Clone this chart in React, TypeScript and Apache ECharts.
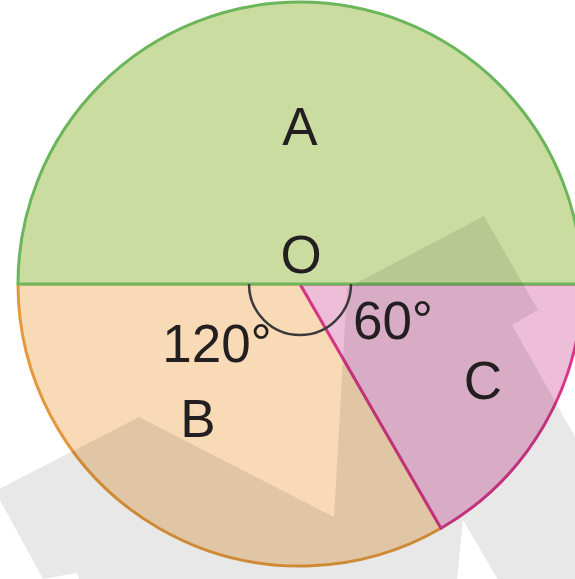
import React, { useEffect, useRef } from "react";
import * as echarts from "echarts";

// Sector categories and their central angles (degrees), in drawing order
const categories = ["B", "C", "A"];
const angles = [120, 60, 180];
const fillColors = ["#f8dab6", "#eebdd8", "#cbdca0"];
const borderColors = ["#e4983c", "#d6368a", "#6bb55a"];

// Angle annotations
const angleLabels = ["120°", "60°"];

// Watermark outline (decorative background shape)
const watermark: number[][] = [
  [-5, 491], [139, 417], [334, 517], [347, 288], [484, 216], [538, 310],
  [512, 325], [600, 481], [600, 600], [510, 600], [463, 520], [455, 600],
  [87, 600], [77, 573], [43, 579],
];

const FONT = "'Liberation Sans', Arial, Helvetica, sans-serif";

export default function App() {
  const ref = useRef<HTMLDivElement>(null);
  useEffect(() => {
    if (!ref.current) return;
    const chart = echarts.init(ref.current, undefined, { renderer: "svg" });
    const cx = 300;
    const cy = 284;
    const txt = (t: string, x: number, y: number) => ({
      type: "text",
      x,
      y,
      z: 20,
      silent: true,
      style: {
        text: t,
        fill: "#231f20",
        font: `53px ${FONT}`,
        align: "center",
        verticalAlign: "middle",
      },
    });
    chart.setOption({
      animation: false,
      backgroundColor: "#ffffff",
      series: [
        {
          type: "pie",
          center: [cx, cy],
          radius: [0, 282],
          startAngle: 180,
          clockwise: false,
          silent: true,
          label: { show: false },
          labelLine: { show: false },
          emphasis: { disabled: true },
          data: categories.map((c, i) => ({
            name: c,
            value: angles[i],
            itemStyle: {
              color: fillColors[i],
              borderColor: borderColors[i],
              borderWidth: 3,
            },
          })),
        },
      ],
      graphic: [
        {
          type: "polygon",
          z: 10,
          silent: true,
          shape: { points: watermark },
          style: { fill: "rgba(0,0,0,0.09)" },
        },
        {
          type: "arc",
          z: 15,
          silent: true,
          shape: { cx, cy, r: 51, startAngle: 0, endAngle: Math.PI, clockwise: true },
          style: { stroke: "#3a3a3a", lineWidth: 2.5, fill: "none" },
        },
        txt("A", 300, 126),
        txt("O", 301, 254),
        txt(angleLabels[0], 217, 343),
        txt(angleLabels[1], 393, 320),
        txt("B", 198, 418),
        txt("C", 483, 380),
      ],
    });
    return () => chart.dispose();
  }, []);
  return (
    <div
      ref={ref}
      style={{ position: "fixed", left: 0, top: 0, width: 575, height: 579 }}
    />
  );
}
